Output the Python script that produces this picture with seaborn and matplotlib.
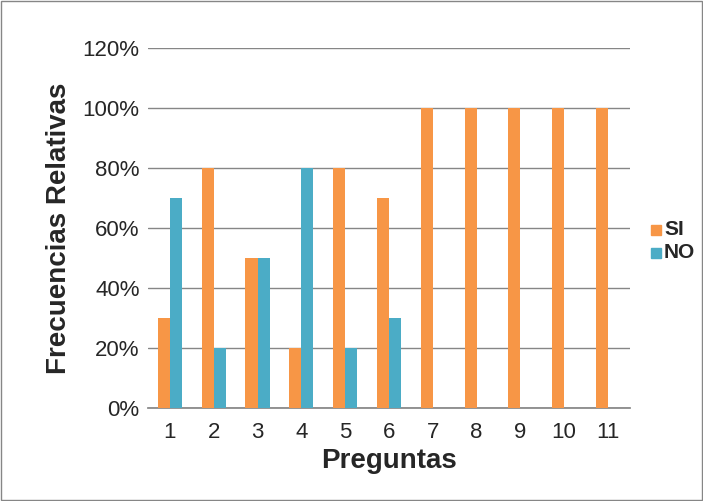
import matplotlib
matplotlib.use("Agg")
import matplotlib.pyplot as plt
import seaborn as sns
import pandas as pd
from matplotlib.patches import Rectangle

preguntas = [str(i) for i in range(1, 12)]
si = [30, 80, 50, 20, 80, 70, 100, 100, 100, 100, 100]
no = [70, 20, 50, 80, 20, 30, 0, 0, 0, 0, 0]
yticks = [0, 20, 40, 60, 80, 100, 120]

df = pd.DataFrame({
    "Pregunta": preguntas * 2,
    "Valor": si + no,
    "Serie": ["SI"] * 11 + ["NO"] * 11,
})

sns.set_theme(style="white")
plt.rcParams["font.family"] = ["Liberation Sans", "DejaVu Sans"]

fig = plt.figure(figsize=(7.03, 5.01), dpi=100)
ax = fig.add_axes([0.2105, 0.1856, 0.6855, 0.7184])
fig.patches.append(Rectangle((0.002, 0.002), 0.996, 0.996, transform=fig.transFigure,
                             fill=False, edgecolor="#868686", linewidth=1))

sns.barplot(data=df, x="Pregunta", y="Valor", hue="Serie", order=preguntas,
            palette={"SI": "#F79646", "NO": "#4BACC6"}, width=0.55,
            saturation=1, ax=ax, legend=False, zorder=3, linewidth=0, edgecolor="none")

ax.set_ylim(0, 120)
ax.set_xlim(-0.5, 10.5)
ax.set_yticks(yticks)
ax.set_yticklabels([f"{v}%" for v in yticks], fontsize=16)
ax.tick_params(axis="x", labelsize=16, length=0, pad=10)
ax.tick_params(axis="y", length=0, pad=6)
ax.grid(axis="y", color="#868686", linewidth=1, zorder=0)
for s in ["top", "right", "left"]:
    ax.spines[s].set_visible(False)
ax.spines["bottom"].set_color("#868686")
ax.set_xlabel("Preguntas", fontsize=20, fontweight="bold", labelpad=4)
ax.set_ylabel("Frecuencias Relativas", fontsize=20, fontweight="bold", labelpad=8)

fig.patches.append(Rectangle((651 / 703, 1 - 235 / 501), 10 / 703, 10 / 501,
                             transform=fig.transFigure, color="#F79646"))
fig.patches.append(Rectangle((651 / 703, 1 - 258 / 501), 10 / 703, 10 / 501,
                             transform=fig.transFigure, color="#4BACC6"))
fig.text(664 / 703, 1 - 230 / 501, "SI", fontsize=15, fontweight="bold", va="center")
fig.text(664 / 703, 1 - 253 / 501, "NO", fontsize=15, fontweight="bold", va="center")

fig.savefig("out.png", dpi=100)
